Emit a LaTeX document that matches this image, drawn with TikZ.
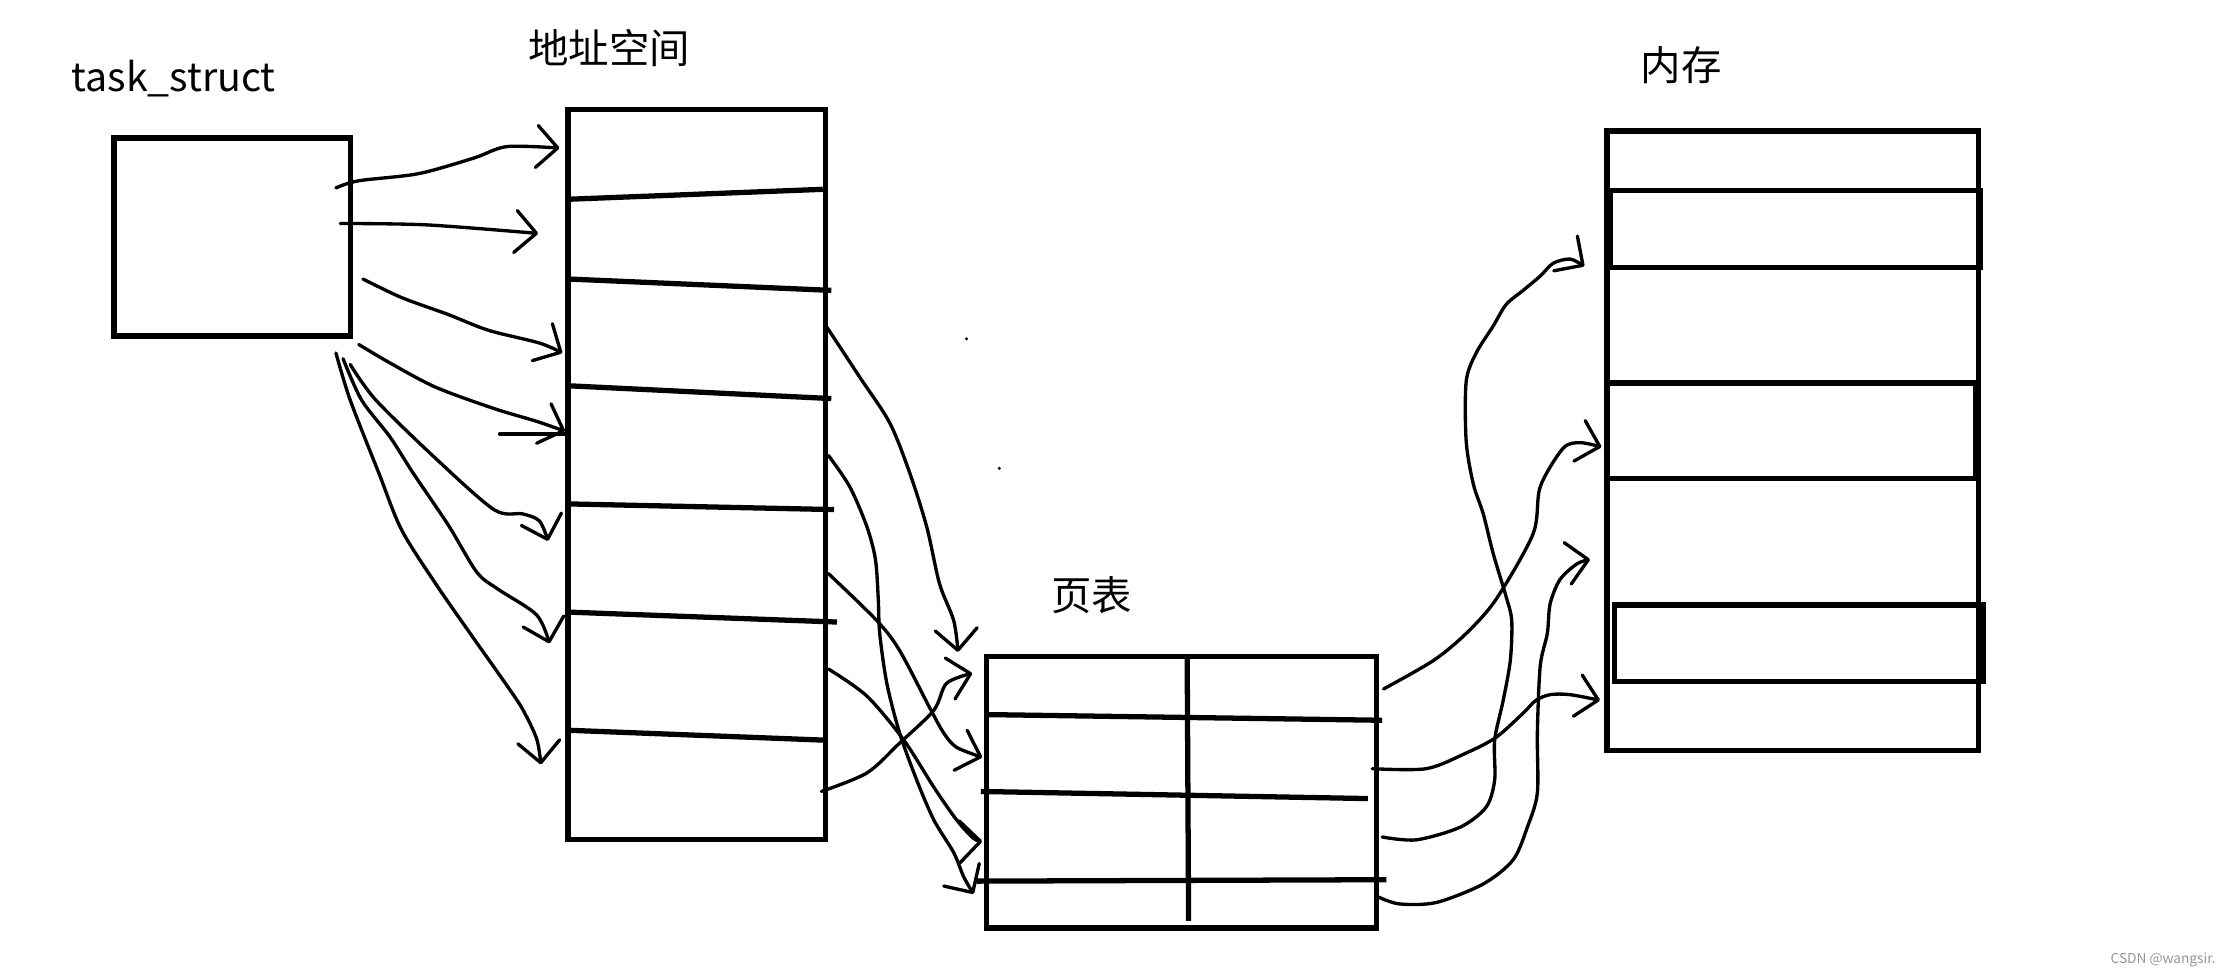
\documentclass[tikz,border=0pt]{standalone}
\usepackage{fontspec}
\usepackage{xcolor}
\usepackage{tikz}
\usetikzlibrary{arrows.meta, fit, calc}
\newfontfamily\cjk{Noto Sans CJK SC}
\definecolor{mark}{RGB}{150, 150, 150}

\begin{document}
\begin{tikzpicture}[
    x=0.14235mm, y=-0.14235mm,
    box/.style={draw, line width=1.5pt, inner sep=0pt},
    sep/.style={line width=1.5pt},
    arr/.style={line width=0.95pt, line cap=round, line join=round, -{Straight Barb[length=2.1mm, width=4.2mm, round]}},
    pen/.style={line width=0.95pt, line cap=round},
    lbl/.style={font=\cjk\fontsize{11.5}{13}\selectfont, inner sep=0pt}
]
\useasboundingbox (0,0) rectangle (1568,686);

% labels
\node[lbl, anchor=base, font=\cjk\fontsize{11.2}{13}\selectfont] (tasklbl) at (122,64) {task\_struct};
\node[lbl] (aslbl) at (428,34) {地址空间};
\node[lbl] (ptlbl) at (767,418) {页表};
\node[lbl] (memlbl) at (1181,46) {内存};
\node[anchor=east, inner sep=0pt, font=\cjk\fontsize{3.9}{5}\selectfont, text=mark] (wm) at (1557,674) {CSDN @wangsir.};

% boxes
\node[box, fit={(80,97) (246,236)}] (task) {};
\node[box, fit={(399,77) (580,590)}] (as) {};
\node[box, fit={(693,461) (967,652)}] (pt) {};
\node[box, fit={(1129,92) (1390,527)}] (mem) {};

% address space slots
\draw[sep] (399,140) -- (578,133);
\draw[sep] (399,196) -- (584,204);
\draw[sep] (399,271) -- (584,280);
\draw[sep] (399,354) -- (586,358);
\draw[sep] (399,430) -- (588,437);
\draw[sep] (399,513) -- (580,520);

% page table rows
\draw[sep] (693,502) -- (971,506);
\draw[sep] (689,556) -- (961,561);
\draw[sep] (686,619) -- (974,618);
\draw[sep] (834,462) -- (835,647);

% memory frames
\draw[sep] (1131,134) rectangle (1391,188);
\draw[sep] (1129,269) rectangle (1388,336);
\draw[sep] (1134,425) rectangle (1393,479);

% task_struct -> address space
\draw[arr] plot[smooth] coordinates {(236,132) (252,127) (294,122) (333,111) (356,103) (393,104)};
\draw[arr] plot[smooth] coordinates {(239,157) (300,158) (378,164)};
\draw[arr] plot[smooth] coordinates {(255,196) (282,209) (315,221) (343,232) (379,241) (395,248)};
\draw[arr] plot[smooth] coordinates {(252,242) (274,255) (306,272) (347,287) (377,296) (397,303)};
\draw[pen] (351,305) -- (398,305);
\draw[arr] plot[smooth] coordinates {(246,256) (264,281) (306,322) (347,358) (367,361) (379,366) (385,380)};
\draw[arr] plot[smooth] coordinates {(241,252) (254,281) (274,307) (290,332) (315,369) (335,402) (350,414) (377,432) (386,452)};
\draw[arr] plot[smooth] coordinates {(236,248) (246,281) (266,332) (282,372) (306,410) (331,446) (355,480) (367,498) (377,519) (380,537)};

% address space -> page table
\draw[arr] plot[smooth] coordinates {(581,230) (604,265) (625,297) (639,332) (651,370) (660,410) (670,436) (673,458)};
\draw[arr] plot[smooth] coordinates {(582,320) (597,342) (609,370) (615,393) (617,421) (618,445) (623,480) (632,515) (644,548) (656,576) (670,599) (677,616) (684,628)};
\draw[arr] plot[smooth] coordinates {(582,403) (616,436) (632,457) (653,497) (663,515) (672,525) (690,532)};
\draw[arr] plot[smooth] coordinates {(582,470) (609,489) (635,520) (656,553) (672,576) (684,589) (690,591)};
\draw[arr] plot[smooth] coordinates {(577,556) (609,543) (632,522) (656,499) (665,480) (683,473)};

% page table -> memory
\draw[arr] plot[smooth] coordinates {(972,484) (1007,464) (1030,445) (1051,421) (1077,375) (1082,342) (1098,315) (1110,311) (1125,314)};
\draw[arr] plot[smooth] coordinates {(964,540) (1002,540) (1030,529) (1051,518) (1070,501) (1079,492) (1089,488) (1103,488) (1124,492)};
\draw[arr] plot[smooth] coordinates {(971,588) (995,590) (1026,581) (1044,567) (1050,548) (1050,520) (1056,492) (1061,464) (1062,436) (1058,419) (1049,389) (1042,361) (1035,340) (1030,310) (1030,268) (1037,248) (1049,229) (1058,214) (1070,204) (1082,194) (1091,185) (1103,182) (1113,187)};
\draw[arr] plot[smooth] coordinates {(968,630) (983,635) (1009,634) (1042,621) (1063,604) (1073,581) (1080,557) (1080,515) (1082,468) (1087,445) (1089,424) (1096,407) (1108,396) (1117,393)};

% stray dots
\fill (679,238) circle (1.2);
\fill (702,329) circle (1.2);
\end{tikzpicture}
\end{document}
